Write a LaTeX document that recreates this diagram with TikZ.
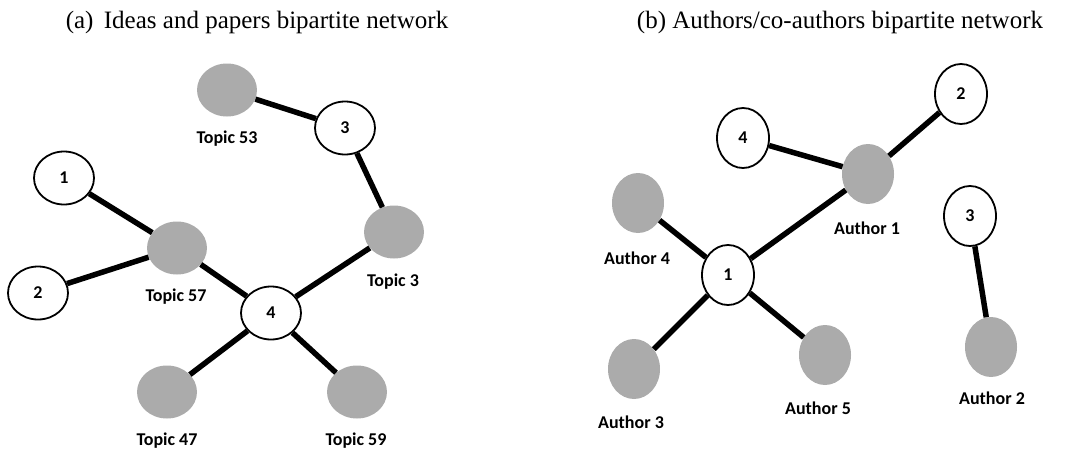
\documentclass[tikz,border=0pt]{standalone}
\usepackage{fontspec}
\setmainfont{Liberation Serif}
\newfontfamily\calfont{Carlito}
\usetikzlibrary{shapes.geometric}
\definecolor{nodegray}{RGB}{171,171,171}
\tikzset{
  paper/.style={ellipse,draw,line width=1.8pt,fill=white,inner sep=0pt,
    minimum width=60pt,minimum height=53pt,font=\calfont\bfseries\fontsize{18}{18}\selectfont},
  topic/.style={ellipse,fill=nodegray,inner sep=0pt,minimum width=60pt,minimum height=53pt},
  tall/.style={minimum width=52pt,minimum height=60pt},
  lbl/.style={font=\calfont\bfseries\fontsize{18}{18}\selectfont},
  link/.style={line width=5.5pt}
}
\begin{document}
\begin{tikzpicture}[x=1pt,y=-1pt]
\useasboundingbox (0,0) rectangle (1065,455);
% titles
\node[font=\fontsize{25}{30}\selectfont](ta) at (257,22){(a)\, Ideas and papers bipartite network};
\node[font=\fontsize{25}{30}\selectfont](tb) at (840,22){(b) Authors/co-authors bipartite network};
% (a) ideas and papers
\node[topic](t53) at (227,90){};
\node[topic](t57) at (177,248){};
\node[topic](t3) at (394,232){};
\node[topic](t47) at (167,392){};
\node[topic](t59) at (357,392){};
\node[paper](p3) at (345,128){3};
\node[paper](p1) at (64,178){1};
\node[paper](p2) at (38,293){2};
\node[paper](p4) at (271,313){4};
\node[lbl](l53) at (227,139){Topic 53};
\node[lbl](l57) at (176,297){Topic 57};
\node[lbl](l3) at (393,282){Topic 3};
\node[lbl](l47) at (167,441){Topic 47};
\node[lbl](l59) at (356,441){Topic 59};
\draw[link](t53)--(p3);
\draw[link](p1)--(t57);
\draw[link](p2)--(t57);
\draw[link](t57)--(p4);
\draw[link](p3)--(t3);
\draw[link](t3)--(p4);
\draw[link](p4)--(t47);
\draw[link](p4)--(t59);
% (b) authors and co-authors
\node[topic,tall](a1) at (868,174){};
\node[topic,tall](a4) at (638,203){};
\node[topic,tall](a3) at (634,369){};
\node[topic,tall](a5) at (825,355){};
\node[topic,tall](a2) at (991,347){};
\node[paper,tall](q2) at (961,94){2};
\node[paper,tall](q4) at (743,138){4};
\node[paper,tall](q3) at (970,216){3};
\node[paper,tall](q1) at (728,275){1};
\node[lbl](m1) at (867,228){Author 1};
\node[lbl](m4) at (637,258){Author 4};
\node[lbl](m3) at (631,422){Author 3};
\node[lbl](m5) at (818,408){Author 5};
\node[lbl](m2) at (992,398){Author 2};
\draw[link](q4)--(a1);
\draw[link](a1)--(q2);
\draw[link](a1)--(q1);
\draw[link](a4)--(q1);
\draw[link](q1)--(a3);
\draw[link](q1)--(a5);
\draw[link](q3)--(a2);
\end{tikzpicture}
\end{document}
